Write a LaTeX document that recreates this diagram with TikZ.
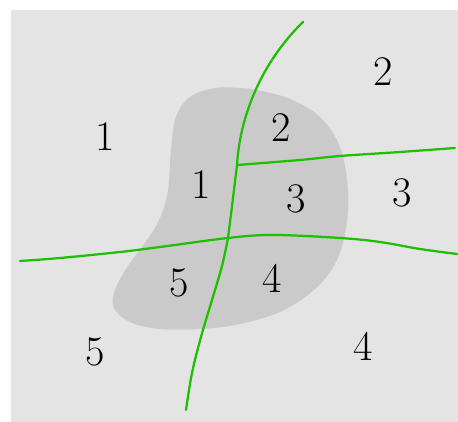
\documentclass[tikz,border=0pt]{standalone}
\usepackage{xcolor}
\usepackage{tikz}

\definecolor{bggray}{RGB}{228,228,228}
\definecolor{blobgray}{RGB}{202,202,202}
\definecolor{cutgreen}{RGB}{30,190,0}

\tikzset{
	cut/.style={cutgreen, line width=0.045cm, line cap=round},
	digit/.style={font=\fontsize{24}{28}\selectfont, inner sep=0pt}
}

\begin{document}
\begin{tikzpicture}[x=0.02cm, y=-0.02cm]
			\useasboundingbox (0,0) rectangle (458,422);
			\fill[bggray] (11,10) rectangle (458,422);
			
			% region in the middle
			\fill[blobgray] plot[smooth cycle, tension=0.6] coordinates {(257,90) (290,99) (320,117) (340,147) (348,190) (346,228) (336,262) (315,289) (282,311) (240,324) (200,329) (160,329) (130,322) (114,308) (115,290) (128,266) (147,240) (160,218) (168,190) (171,150) (176,117) (190,97) (215,88) (238,88)};
			
			% cut lines
			\coordinate (top) at (303,22);
			\coordinate (jb) at (237,165);
			\coordinate (jc) at (228,238);
			\draw[cut] (top) .. controls (262,62) and (240,115) .. (jb) .. controls (234,190) and (231,215) .. (jc);
			\draw[cut] plot[smooth, tension=0.6] coordinates {(228,238) (222,266) (212,300) (201,337) (192,373) (186,410)};
			\draw[cut] plot[smooth, tension=0.6] coordinates {(237,165) (300,160) (340,156) (400,152) (455,148)};
			\draw[cut] plot[smooth, tension=0.6] coordinates {(20,261) (60,258) (120,252) (160,247) (228,238) (273,235) (340,238) (380,242) (420,249) (457,254)};
			
			% labels outside
			\node[digit] (o1) at (105,137) {1};
			\node[digit] (o2) at (383,72) {2};
			\node[digit] (o3) at (402,193) {3};
			\node[digit] (o4) at (363,346) {4};
			\node[digit] (o5) at (95,352) {5};
			
			% labels inside
			\node[digit] (i1) at (201,185) {1};
			\node[digit] (i2) at (281,128) {2};
			\node[digit] (i3) at (296,199) {3};
			\node[digit] (i4) at (272,278) {4};
			\node[digit] (i5) at (179,283) {5};
		\end{tikzpicture}
\end{document}
